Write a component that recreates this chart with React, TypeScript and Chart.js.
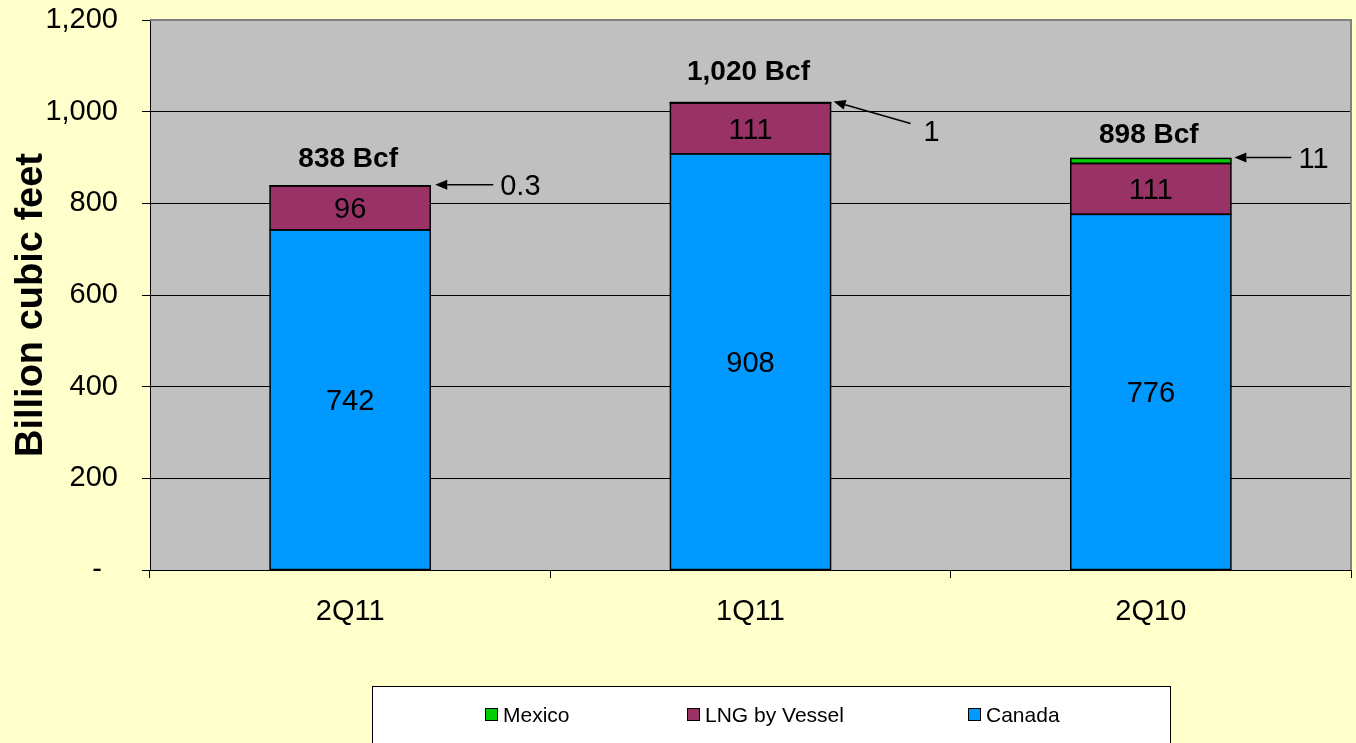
import React, { useEffect, useRef } from 'react';
import { Chart, registerables } from 'chart.js';

Chart.register(...registerables);

// ---- data ----
const categories = ['2Q11', '1Q11', '2Q10'];
const canada = [742, 908, 776];
const lngByVessel = [96, 111, 111];
const mexico = [0.3, 1, 11];
const totals = [838, 1020, 898];
const yMin = 0;
const yMax = 1200;
const yStep = 200;

// ---- styles ----
const FONT = "'Liberation Sans', Arial, Helvetica, sans-serif";
const COLORS = { canada: '#0099FF', lng: '#993366', mexico: '#00CC00' };
const PAGE_BG = '#FFFFCC';
const PLOT_BG = '#C0C0C0';

const arrowStyle = [
  { gap: 5, dx: 58, dy: 0, lx: 7, ly: 0 },
  { gap: 3, dx: 77, dy: 22, lx: 13, ly: 7 },
  { gap: 3.5, dx: 57, dy: 0, lx: 7, ly: 0 },
];
const totalOffset = [29, 33, 25];

const legendItems = [
  { label: 'Mexico', color: COLORS.mexico, x: 485 },
  { label: 'LNG by Vessel', color: COLORS.lng, x: 687 },
  { label: 'Canada', color: COLORS.canada, x: 968 },
];

function drawArrow(ctx: CanvasRenderingContext2D, x1: number, y1: number, x2: number, y2: number) {
  const ang = Math.atan2(y2 - y1, x2 - x1);
  const L = 12;
  const W = 5;
  const bx = x2 - L * Math.cos(ang);
  const by = y2 - L * Math.sin(ang);
  ctx.beginPath();
  ctx.moveTo(x1, y1);
  ctx.lineTo(bx, by);
  ctx.lineWidth = 1.5;
  ctx.strokeStyle = '#000';
  ctx.stroke();
  ctx.beginPath();
  ctx.moveTo(x2, y2);
  ctx.lineTo(bx + W * Math.sin(ang), by - W * Math.cos(ang));
  ctx.lineTo(bx - W * Math.sin(ang), by + W * Math.cos(ang));
  ctx.closePath();
  ctx.fillStyle = '#000';
  ctx.fill();
}

const customPlugin = {
  id: 'customDecor',
  beforeDraw(chart: any) {
    const { ctx, chartArea: a } = chart;
    ctx.save();
    ctx.fillStyle = PAGE_BG;
    ctx.fillRect(0, 0, chart.width, chart.height);
    ctx.fillStyle = PLOT_BG;
    ctx.fillRect(a.left, a.top, a.right - a.left, a.bottom - a.top);
    ctx.restore();
  },
  beforeDatasetsDraw(chart: any) {
    const { ctx, chartArea: a } = chart;
    ctx.save();
    ctx.strokeStyle = '#808080';
    ctx.lineWidth = 2;
    ctx.beginPath();
    ctx.moveTo(a.left, a.top);
    ctx.lineTo(a.right, a.top);
    ctx.lineTo(a.right, a.bottom);
    ctx.stroke();
    ctx.restore();
  },
  afterDatasetsDraw(chart: any) {
    const { ctx } = chart;
    ctx.save();
    // bar outlines
    ctx.strokeStyle = '#000';
    ctx.lineWidth = 1.5;
    chart.data.datasets.forEach((_d: any, di: number) => {
      const meta = chart.getDatasetMeta(di);
      meta.data.forEach((el: any) => {
        const l = el.x - el.width / 2;
        const t = Math.min(el.y, el.base);
        const h = Math.abs(el.base - el.y);
        ctx.strokeRect(l, t, el.width, h);
      });
    });
    // values inside segments
    const size = 29;
    ctx.font = `${size}px ${FONT}`;
    ctx.fillStyle = '#000';
    ctx.textAlign = 'center';
    ctx.textBaseline = 'alphabetic';
    [0, 1].forEach((di) => {
      const meta = chart.getDatasetMeta(di);
      const values = chart.data.datasets[di].data as number[];
      meta.data.forEach((el: any, i: number) => {
        const cy = (el.y + el.base) / 2;
        ctx.fillText(String(values[i]), el.x, cy + size * 0.358);
      });
    });
    // totals and arrows
    const topMeta = chart.getDatasetMeta(2);
    topMeta.data.forEach((el: any, i: number) => {
      const topY = el.y;
      ctx.font = `bold 28px ${FONT}`;
      ctx.textAlign = 'center';
      ctx.fillStyle = '#000';
      ctx.fillText(`${totals[i].toLocaleString('en-US')} Bcf`, el.x - 2, topY - totalOffset[i] + 28 * 0.358);
      const s = arrowStyle[i];
      const tipX = el.x + el.width / 2 + s.gap;
      const tipY = topY - 1;
      const tailX = tipX + s.dx;
      const tailY = tipY + s.dy;
      drawArrow(ctx, tailX, tailY, tipX, tipY);
      ctx.font = `${size}px ${FONT}`;
      ctx.textAlign = 'left';
      ctx.fillStyle = '#000';
      ctx.fillText(String(mexico[i]), tailX + s.lx, tailY + s.ly + size * 0.358);
    });
    ctx.restore();
  },
  afterDraw(chart: any) {
    const { ctx, chartArea: a } = chart;
    ctx.save();
    // y axis title
    ctx.translate(28.5, (a.top + a.bottom) / 2 + 10);
    ctx.rotate(-Math.PI / 2);
    ctx.font = `bold 38px ${FONT}`;
    ctx.fillStyle = '#000';
    ctx.textAlign = 'center';
    ctx.textBaseline = 'alphabetic';
    ctx.fillText('Billion cubic feet', 0, 38 * 0.358);
    ctx.restore();

    // legend
    ctx.save();
    ctx.fillStyle = '#FFFFFF';
    ctx.fillRect(372.5, 686.5, 798, 70);
    ctx.strokeStyle = '#000';
    ctx.lineWidth = 1;
    ctx.strokeRect(372.5, 686.5, 798, 70);
    ctx.font = `21px ${FONT}`;
    ctx.textAlign = 'left';
    ctx.textBaseline = 'alphabetic';
    legendItems.forEach((it) => {
      ctx.fillStyle = it.color;
      ctx.fillRect(it.x + 0.5, 708.5, 12, 12);
      ctx.strokeStyle = '#000';
      ctx.strokeRect(it.x + 0.5, 708.5, 12, 12);
      ctx.fillStyle = '#000';
      ctx.fillText(it.label, it.x + 18, 722);
    });
    ctx.restore();
  },
};

export default function App() {
  const ref = useRef<HTMLCanvasElement>(null);
  useEffect(() => {
    if (!ref.current) return;
    const barCommon = {
      borderWidth: 0,
      inflateAmount: 0,
      barPercentage: 0.4,
      categoryPercentage: 1,
    };
    const chart = new Chart(ref.current, {
      type: 'bar',
      data: {
        labels: categories,
        datasets: [
          { label: 'Canada', data: canada, backgroundColor: COLORS.canada, ...barCommon },
          { label: 'LNG by Vessel', data: lngByVessel, backgroundColor: COLORS.lng, ...barCommon },
          { label: 'Mexico', data: mexico, backgroundColor: COLORS.mexico, ...barCommon },
        ],
      },
      options: {
        responsive: false,
        animation: false,
        devicePixelRatio: 1,
        layout: { padding: { top: 20, right: 5, left: 0, bottom: 0 } },
        plugins: {
          legend: { display: false },
          tooltip: { enabled: false },
          title: { display: false },
        },
        scales: {
          x: {
            stacked: true,
            offset: true,
            grid: {
              display: true,
              offset: true,
              drawOnChartArea: false,
              drawTicks: true,
              tickLength: 8,
              tickColor: '#000',
              color: '#000',
            },
            border: { display: true, color: '#000', width: 1 },
            ticks: { color: '#000', font: { family: FONT, size: 29 }, padding: 17 },
            afterFit: (s: any) => {
              s.height = 173;
              s.paddingLeft = 0;
              s.paddingRight = 0;
            },
          },
          y: {
            stacked: true,
            min: yMin,
            max: yMax,
            ticks: {
              stepSize: yStep,
              color: '#000',
              font: { family: FONT, size: 29 },
              padding: 24,
              callback: (v: any) => (Number(v) === 0 ? '-  ' : Number(v).toLocaleString('en-US')),
            },
            grid: {
              color: (c: any) => (c.tick && c.tick.value === yMax ? '#808080' : '#000000'),
              tickColor: '#000',
              tickLength: 8,
              lineWidth: 1,
            },
            border: { display: true, color: '#000', width: 1 },
            afterFit: (s: any) => {
              s.width = 150;
              s.paddingTop = 0;
              s.paddingBottom = 0;
            },
          },
        },
      },
      plugins: [customPlugin],
    });
    return () => chart.destroy();
  }, []);
  return (
    <div style={{ position: 'absolute', left: 0, top: 0, width: 1356, height: 743, background: PAGE_BG, overflow: 'hidden' }}>
      <canvas ref={ref} width={1356} height={743} style={{ display: 'block' }} />
    </div>
  );
}
